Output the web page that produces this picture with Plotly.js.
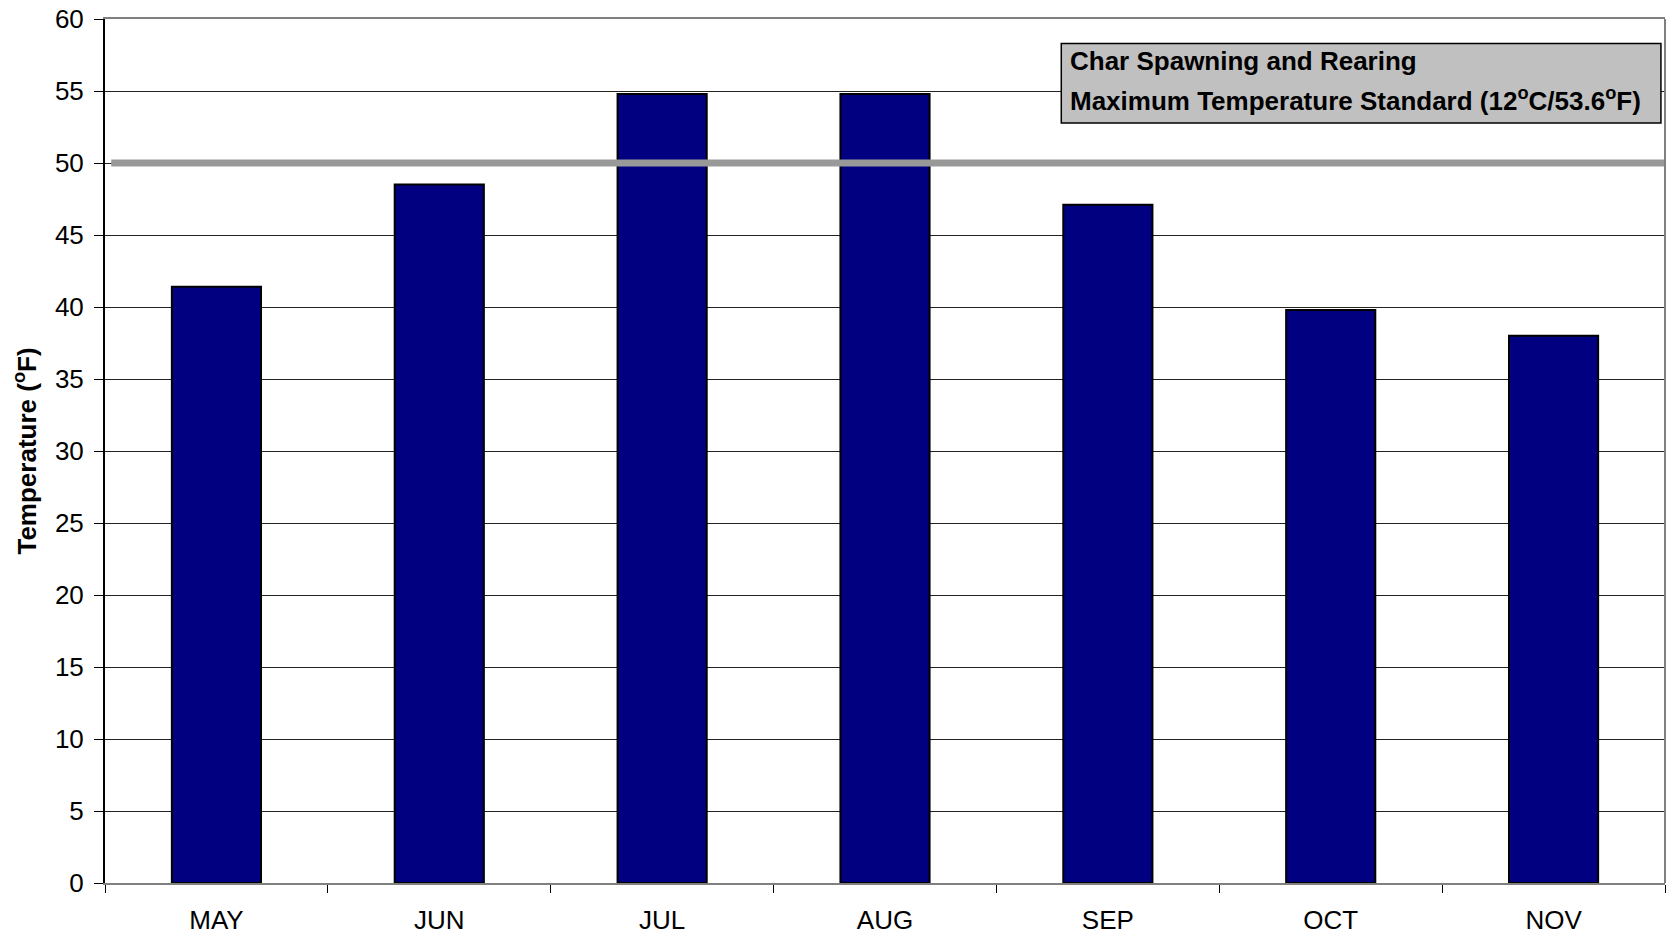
<!DOCTYPE html>
<html>
<head>
<meta charset="utf-8">
<script src="https://cdn.plot.ly/plotly-3.0.1.min.js"></script>
<style>html,body{margin:0;padding:0;background:#fff;}#chart{width:1667px;height:936px;}</style>
</head>
<body>
<div id="chart"></div>
<script>
const months = ["MAY", "JUN", "JUL", "AUG", "SEP", "OCT", "NOV"];
const temperatures = [41.4, 48.5, 54.8, 54.8, 47.1, 39.8, 38.0];
const standardLevel = 50;
const yTicks = [0, 5, 10, 15, 20, 25, 30, 35, 40, 45, 50, 55, 60];
const legendLine1 = "<b>Char Spawning and Rearing</b>";
const legendLine2 = "<b>Maximum Temperature Standard (12<sup>o</sup>C/53.6<sup>o</sup>F)</b>";
const yTitle = "<b>Temperature (<sup>o</sup>F)</b>";

const font = "Liberation Sans, Arial, sans-serif";

const data = [{
  type: "bar",
  x: months,
  y: temperatures,
  width: 0.4,
  marker: {color: "#000080", line: {color: "#000000", width: 2}},
  hoverinfo: "x+y"
}];

const layout = {
  width: 1667,
  height: 936,
  margin: {l: 105, r: 2, t: 19, b: 53},
  paper_bgcolor: "#ffffff",
  plot_bgcolor: "#ffffff",
  showlegend: false,
  font: {family: font, size: 26, color: "#000"},
  xaxis: {
    type: "category",
    showgrid: false,
    showline: true,
    linecolor: "#808080",
    linewidth: 2,
    mirror: true,
    ticks: "outside",
    tickson: "boundaries",
    ticklen: 8,
    tickcolor: "#000",
    tickwidth: 1,
    ticklabelstandoff: 13,
    tickfont: {family: font, size: 26, color: "#000"},
    zeroline: false
  },
  yaxis: {
    range: [0, 60],
    tickvals: yTicks,
    showgrid: true,
    gridcolor: "#222222",
    gridwidth: 1,
    showline: true,
    linecolor: "#000",
    linewidth: 2,
    ticks: "outside",
    ticklen: 9,
    tickcolor: "#000",
    ticklabelstandoff: 5,
    tickfont: {family: font, size: 26, color: "#000"},
    zeroline: false,
    title: {text: yTitle, font: {family: font, size: 26, color: "#000"}, standoff: 11}
  },
  shapes: [
    {type: "line", xref: "paper", yref: "y", x0: 0.004, x1: 1, y0: standardLevel, y1: standardLevel,
     line: {color: "#999999", width: 7}},
    {type: "line", xref: "paper", yref: "paper", x0: 1, x1: 1, y0: 0, y1: 1,
     line: {color: "#808080", width: 2}},
    {type: "rect", xref: "paper", yref: "paper", x0: 0.613, x1: 0.9974, y0: 0.8796, y1: 0.9715,
     fillcolor: "#c0c0c0", line: {color: "#000", width: 1.5}}
  ],
  annotations: [
    {xref: "paper", yref: "paper", x: 0.6172, y: 0.9519, xanchor: "left", yanchor: "middle",
     showarrow: false, text: legendLine1, font: {family: font, size: 26, color: "#000"}},
    {xref: "paper", yref: "paper", x: 0.6172, y: 0.9063, xanchor: "left", yanchor: "middle",
     showarrow: false, text: legendLine2, font: {family: font, size: 26, color: "#000"}}
  ]
};

Plotly.newPlot("chart", data, layout, {displayModeBar: false, staticPlot: true});
</script>
</body>
</html>
